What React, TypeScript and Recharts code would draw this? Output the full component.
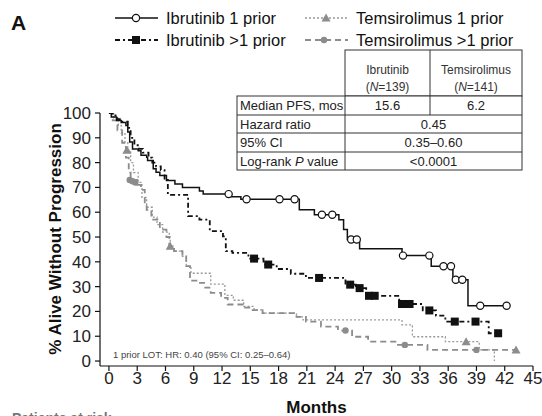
import {ComposedChart, Line, Scatter, XAxis, YAxis} from "recharts"

// KM step points [month, % alive without progression]
const ibr1Steps: [number, number][] = [
    [0, 100], [0.25, 98.4], [0.8, 97], [1.3, 96.2], [1.8, 95], [2.0, 92.3], [2.2, 88.3], [2.5, 85.5],
    [3.1, 84.8], [3.4, 83], [4.0, 82.2], [4.1, 80.9], [4.7, 77.5], [5.0, 76.1], [5.4, 74.8], [6.1, 72.8],
    [7.0, 71.4], [7.8, 70], [9.6, 68.6], [10.0, 67.3], [13.0, 66.2], [14.0, 65.2], [20.2, 61], [21.8, 59],
    [24.4, 57], [24.9, 53], [25.3, 49], [26.6, 45.3], [31.1, 42.5], [34.2, 38.2], [36.5, 32.8], [38.1, 22.3],
    [42.2, 22.3],
]
const ibr1Censor: [number, number][] = [
    [12.7, 67.3], [14.6, 65.2], [18.1, 65.2], [19.7, 65.2], [22.6, 59], [23.7, 59], [25.7, 49], [26.3, 49],
    [31.2, 42.5], [34.0, 42.5], [35.5, 38.2], [36.3, 38.2], [36.8, 32.8], [37.5, 32.8], [39.4, 22.3], [42.2, 22.3],
]

const ibrMultiSteps: [number, number][] = [
    [0, 100], [0.4, 99], [0.9, 97.5], [1.4, 96.5], [2.0, 94], [2.3, 90], [2.7, 87], [3.2, 85.5], [3.6, 84],
    [4.2, 82], [4.6, 80], [5.0, 78.5], [5.5, 77], [5.9, 73], [6.25, 67], [8.4, 58.4], [9.6, 57], [10.7, 52.4],
    [12.1, 50.3], [12.4, 44.3], [13.1, 43.6], [14.8, 41.3], [16.4, 38.9], [17.8, 37.1], [19.3, 35.2],
    [20.9, 33.5], [25.1, 30.8], [26.2, 29.4], [27.3, 26.3], [30.8, 23], [33.3, 20.4], [34.7, 18.3],
    [35.7, 15.9], [40.3, 11.2], [41.3, 11.2],
]
const ibrMultiCensor: [number, number][] = [
    [15.4, 41.3], [16.9, 38.9], [22.3, 33.5], [25.6, 30.8], [26.6, 29.4], [27.6, 26.3], [28.2, 26.3],
    [31.1, 23], [31.9, 23], [34.0, 20.4], [36.7, 15.9], [38.9, 15.9], [41.3, 11.2],
]

const tem1Steps: [number, number][] = [
    [0, 100], [0.5, 98], [1.0, 95], [1.3, 92], [1.7, 88], [2.0, 85], [2.3, 80], [2.6, 76], [3.1, 72],
    [3.5, 66], [4.0, 62], [4.6, 58], [5.1, 55], [5.7, 52], [6.4, 50], [6.5, 46.3], [6.9, 44.3], [7.8, 42.2],
    [8.2, 38.3], [8.7, 35.4], [10.8, 31], [12.3, 26.5], [13.2, 24.5], [14.3, 22], [15.4, 20.6], [16.3, 19.3],
    [19.9, 17.8], [20.6, 16.6], [31.1, 14.6], [32.2, 9.8], [35.7, 7.8], [39.3, 4.5], [40.9, 0],
]
const tem1Censor: [number, number][] = [
    [1.9, 85], [6.5, 46.3], [37.9, 7.8], [43.2, 4.5],
]

const temMultiSteps: [number, number][] = [
    [0, 100], [0.4, 97], [0.9, 93], [1.4, 88], [1.8, 82], [2.1, 76], [2.3, 73], [3.0, 71], [3.4, 69],
    [3.8, 64], [4.0, 61], [4.5, 57], [5.4, 53], [6.1, 50], [6.4, 46], [6.9, 44.3], [7.8, 42.2], [8.2, 38.3],
    [8.6, 32.4], [9.4, 31.5], [10.1, 29.6], [10.8, 27.5], [11.9, 25.5], [12.6, 22.8], [14.2, 21.5],
    [15.0, 20.5], [16.3, 19.3], [19.9, 17.8], [20.9, 15.9], [22.5, 13.9], [24.3, 12.3], [25.8, 9.8],
    [27.5, 7.8], [30.5, 6.5], [33.8, 4.5], [43.2, 4.5],
]
const temMultiCensor: [number, number][] = [
    [2.2, 73], [2.5, 72.5], [2.8, 72], [25.1, 12.3], [31.4, 6.5], [39.0, 4.5],
]

const xTicks = [0, 3, 6, 9, 12, 15, 18, 21, 24, 27, 30, 33, 36, 39, 42, 45]
const yTicks = [0, 10, 20, 30, 40, 50, 60, 70, 80, 90, 100]

const FONT = "'Liberation Sans', Arial, Helvetica, sans-serif"
const GRAY = "#8c8c8c"

const toRows = (pts: [number, number][]) => pts.map(([t, v]) => ({t, v}))

const OpenCircle = (p: any) => <circle cx={p.cx} cy={p.cy} r={3.6} fill="#fff" stroke="#111" strokeWidth={1.2}/>
const BlackSquare = (p: any) => <rect x={p.cx - 4} y={p.cy - 4} width={8} height={8} fill="#111"/>
const GrayTriangle = (p: any) => (
    <polygon points={`${p.cx},${p.cy - 4.5} ${p.cx - 4.5},${p.cy + 3.5} ${p.cx + 4.5},${p.cy + 3.5}`} fill={GRAY}/>
)
const GrayDot = (p: any) => <circle cx={p.cx} cy={p.cy} r={3.2} fill={GRAY}/>

function LegendBox() {
    const rows = [
        {x: 115, y: 18, label: "Ibrutinib 1 prior", stroke: "#111", dash: undefined, w: 1.5, mark: <OpenCircle cx={136} cy={18}/>},
        {x: 305, y: 18, label: "Temsirolimus 1 prior", stroke: "#999", dash: "2 2", w: 1.3, mark: <GrayTriangle cx={326} cy={18}/>},
        {x: 115, y: 40, label: "Ibrutinib >1 prior", stroke: "#111", dash: "5 3 2 3", w: 1.8, mark: <BlackSquare cx={136} cy={40}/>},
        {x: 305, y: 40, label: "Temsirolimus >1 prior", stroke: GRAY, dash: "6 4", w: 1.8, mark: <GrayDot cx={324} cy={40}/>},
    ]
    return (
        <svg width={542} height={50} style={{position: "absolute", left: 0, top: 0}}>
            <text x={11} y={30} fontFamily={FONT} fontWeight="bold" fontSize={21} fill="#111">A</text>
            {rows.map(r => (
                <g key={r.label}>
                    <line x1={r.x} x2={r.x + 43} y1={r.y} y2={r.y} stroke={r.stroke} strokeWidth={r.w} strokeDasharray={r.dash}/>
                    {r.mark}
                    <text x={r.x + 51} y={r.y + 6} fontFamily={FONT} fontSize={16.5} fill="#111">{r.label}</text>
                </g>
            ))}
        </svg>
    )
}

function StatsTable() {
    const c0 = 237, c1 = 345, c2 = 430, c3 = 522
    const rowY = [96, 115, 133, 152, 170]
    const rows = [
        {label: <>Median PFS, mos</>, a: "15.6", b: "6.2"},
        {label: <>Hazard ratio</>, a: "0.45"},
        {label: <>95% CI</>, a: "0.35–0.60"},
        {label: <>Log-rank <tspan fontStyle="italic">P</tspan> value</>, a: "<0.0001"},
    ]
    const st = {stroke: "#333", strokeWidth: 1}
    return (
        <svg width={542} height={180} style={{position: "absolute", left: 0, top: 0}} fontFamily={FONT}>
            <rect x={c1} y={50} width={c3 - c1} height={rowY[0] - 50} fill="#fff" {...st}/>
            <rect x={c0} y={rowY[0]} width={c3 - c0} height={rowY[4] - rowY[0]} fill="#fff" {...st}/>
            {rowY.slice(1, 4).map(y => <line key={y} x1={c0} x2={c3} y1={y} y2={y} {...st}/>)}
            <line x1={c1} x2={c1} y1={rowY[0]} y2={rowY[4]} {...st}/>
            <line x1={c2} x2={c2} y1={50} y2={rowY[1]} {...st}/>
            <g fontSize={12} fill="#333" textAnchor="middle">
                <text x={(c1 + c2) / 2} y={74}>Ibrutinib</text>
                <text x={(c1 + c2) / 2} y={91}>(<tspan fontStyle="italic">N</tspan>=139)</text>
                <text x={(c2 + c3) / 2} y={74}>Temsirolimus</text>
                <text x={(c2 + c3) / 2} y={91}>(<tspan fontStyle="italic">N</tspan>=141)</text>
            </g>
            <g fontSize={13} fill="#222">
                {rows.map((r, i) => {
                    const y = (rowY[i] + rowY[i + 1]) / 2 + 4.5
                    return (
                        <g key={i}>
                            <text x={c0 + 3} y={y}>{r.label}</text>
                            {r.b !== undefined ? (
                                <>
                                    <text x={(c1 + c2) / 2} y={y} textAnchor="middle">{r.a}</text>
                                    <text x={(c2 + c3) / 2} y={y} textAnchor="middle">{r.b}</text>
                                </>
                            ) : (
                                <text x={(c1 + c3) / 2} y={y} textAnchor="middle">{r.a}</text>
                            )}
                        </g>
                    )
                })}
            </g>
        </svg>
    )
}

export default function App() {
    return (
        <div style={{position: "absolute", left: 0, top: 0, width: 542, height: 416, overflow: "hidden", background: "#fff", fontFamily: FONT}}>
            <ComposedChart width={542} height={416} margin={{top: 113, right: 9, bottom: 0, left: 60}}>
                <XAxis type="number" dataKey="t" domain={[-0.95, 45]} ticks={xTicks} interval={0} allowDataOverflow
                       tickSize={5} tickMargin={1} stroke="#111" strokeWidth={1.2}
                       tick={{fill: "#222", fontSize: 17, fontFamily: FONT}} height={50}
                       label={{value: "Months", position: "insideBottom", offset: 3, fill: "#111", fontSize: 17, fontWeight: "bold", fontFamily: FONT}}/>
                <YAxis type="number" dataKey="v" domain={[-2, 100]} ticks={yTicks} interval={0} allowDataOverflow width={40}
                       tickSize={5} tickMargin={4} stroke="#111" strokeWidth={1.2}
                       tick={{fill: "#222", fontSize: 17, fontFamily: FONT}}
                       label={{
                           content: () => (
                               <text x={55} y={239} transform="rotate(-90, 55, 239)" textAnchor="middle" dominantBaseline="central"
                                     fontFamily={FONT} fontWeight="bold" fontSize={17} fill="#111">
                                   % Alive Without Progression
                               </text>
                           ),
                       }}/>
                <Line data={toRows(tem1Steps)} dataKey="v" type="stepAfter" stroke="#999" strokeWidth={1.3}
                      strokeDasharray="2 2" dot={false} isAnimationActive={false}/>
                <Line data={toRows(temMultiSteps)} dataKey="v" type="stepAfter" stroke={GRAY} strokeWidth={1.8}
                      strokeDasharray="6 4" dot={false} isAnimationActive={false}/>
                <Line data={toRows(ibrMultiSteps)} dataKey="v" type="stepAfter" stroke="#111" strokeWidth={1.8}
                      strokeDasharray="5 3 2 3" dot={false} isAnimationActive={false}/>
                <Line data={toRows(ibr1Steps)} dataKey="v" type="stepAfter" stroke="#111" strokeWidth={1.5}
                      dot={false} isAnimationActive={false}/>
                <Scatter data={toRows(tem1Censor)} shape={GrayTriangle} isAnimationActive={false}/>
                <Scatter data={toRows(temMultiCensor)} shape={GrayDot} isAnimationActive={false}/>
                <Scatter data={toRows(ibrMultiCensor)} shape={BlackSquare} isAnimationActive={false}/>
                <Scatter data={toRows(ibr1Censor)} shape={OpenCircle} isAnimationActive={false}/>
            </ComposedChart>
            <div style={{position: "absolute", left: 113, top: 349, fontSize: 9.5, color: "#444", whiteSpace: "nowrap"}}>
                1 prior LOT: HR: 0.40 (95% CI: 0.25–0.64)
            </div>
            <LegendBox/>
            <StatsTable/>
            <div style={{position: "absolute", left: 12, top: 410, fontSize: 14, fontWeight: "bold", color: "#777", whiteSpace: "nowrap"}}>
                Patients at risk
            </div>
        </div>
    )
}
